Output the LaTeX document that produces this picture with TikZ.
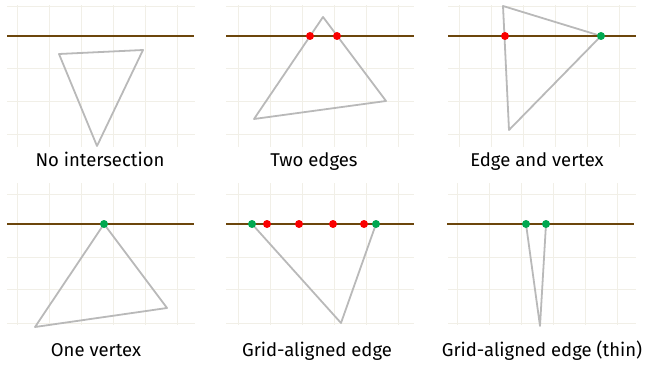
\documentclass[tikz,border=0pt]{standalone}
\usepackage{fontspec}
\setmainfont{Fira Sans}
\definecolor{gridc}{RGB}{241,239,231}
\definecolor{cutline}{RGB}{108,70,12}
\definecolor{trigray}{RGB}{185,185,185}
\definecolor{hitred}{RGB}{250,0,0}
\definecolor{hitgreen}{RGB}{0,168,80}

\begin{document}
\begin{tikzpicture}[x=1pt, y=-1pt,
    gridline/.style={draw=gridc, line width=0.8pt},
    scanline/.style={draw=cutline, line width=2pt},
    tri/.style={draw=trigray, line width=1.8pt, line join=round},
    edgehit/.style={circle, fill=hitred, inner sep=0pt, minimum size=8pt},
    verthit/.style={circle, fill=hitgreen, inner sep=0pt, minimum size=8pt},
    caption/.style={font=\fontsize{18.5}{22}\selectfont, anchor=base},
]
    \useasboundingbox (0,0) rectangle (647,366);

    % background grids
    \foreach \gx/\gy/\vx in {7/5/17, 226/5/238, 448/5/459, 7/183/17, 226/183/238, 447/183/457} {
        \foreach \i in {0,...,5}
            \draw[gridline] ({\vx+32.1*\i},\gy) -- ++(0,142);
    }
    \foreach \gx in {7,226,448} {
        \foreach \y in {6,68,101,134}
            \draw[gridline] (\gx,\y) -- ++(188,0);
        \foreach \y in {194,257,289,323}
            \draw[gridline] (\gx,\y) -- ++(188,0);
    }

    % Row 1
    \coordinate (a1) at (59,54);   \coordinate (b1) at (143,50);  \coordinate (c1) at (97,146);
    \coordinate (a2) at (323,17);  \coordinate (b2) at (386,101); \coordinate (c2) at (254,119);
    \coordinate (a3) at (503,6);   \coordinate (b3) at (601,36);  \coordinate (c3) at (509,130);
    \draw[tri] (a1) -- (b1) -- (c1) -- cycle;
    \draw[tri] (a2) -- (b2) -- (c2) -- cycle;
    \draw[tri] (a3) -- (b3) -- (c3) -- cycle;

    % Row 2
    \coordinate (a4) at (104,224); \coordinate (b4) at (167,308); \coordinate (c4) at (35,327);
    \coordinate (a5) at (252,224); \coordinate (b5) at (376,224); \coordinate (c5) at (341,323);
    \coordinate (a6) at (526,224); \coordinate (b6) at (546,224); \coordinate (c6) at (540,326);
    \draw[tri] (a4) -- (b4) -- (c4) -- cycle;
    \draw[tri] (a5) -- (b5) -- (c5) -- cycle;
    \draw[tri] (a6) -- (b6) -- (c6) -- cycle;

    % scan lines
    \coordinate (l1w) at (7,36);   \coordinate (l1e) at (194,36);
    \coordinate (l2w) at (226,36); \coordinate (l2e) at (414,36);
    \coordinate (l3w) at (448,36); \coordinate (l3e) at (636,36);
    \coordinate (l4w) at (7,224);  \coordinate (l4e) at (194,224);
    \coordinate (l5w) at (226,224); \coordinate (l5e) at (414,224);
    \coordinate (l6w) at (447,224); \coordinate (l6e) at (634,224);
    \foreach \k in {1,...,6}
        \draw[scanline] (l\k w) -- (l\k e);

    % hits, row 1
    \node[edgehit] (h2l) at (310,36) {};
    \node[edgehit] (h2r) at (337,36) {};
    \node[edgehit] (h3l) at (505,36) {};
    \node[verthit] (v3) at (b3) {};
    \node[caption] (cap1) at (100,167) {No intersection};
    \node[caption] (cap2) at (314,167) {Two edges};
    \node[caption] (cap3) at (537,167) {Edge and vertex};

    % hits, row 2
    \node[verthit] (v4) at (a4) {};
    \foreach \hx [count=\n] in {267,299,333,364}
        \node[edgehit] (h5\n) at (\hx,224) {};
    \node[verthit] (v5l) at (a5) {};
    \node[verthit] (v5r) at (b5) {};
    \node[verthit] (v6l) at (a6) {};
    \node[verthit] (v6r) at (b6) {};
    \node[caption] (cap4) at (96,356) {One vertex};
    \node[caption] (cap5) at (317,356) {Grid-aligned edge};
    \node[caption] (cap6) at (542,356) {Grid-aligned edge (thin)};
\end{tikzpicture}
\end{document}
